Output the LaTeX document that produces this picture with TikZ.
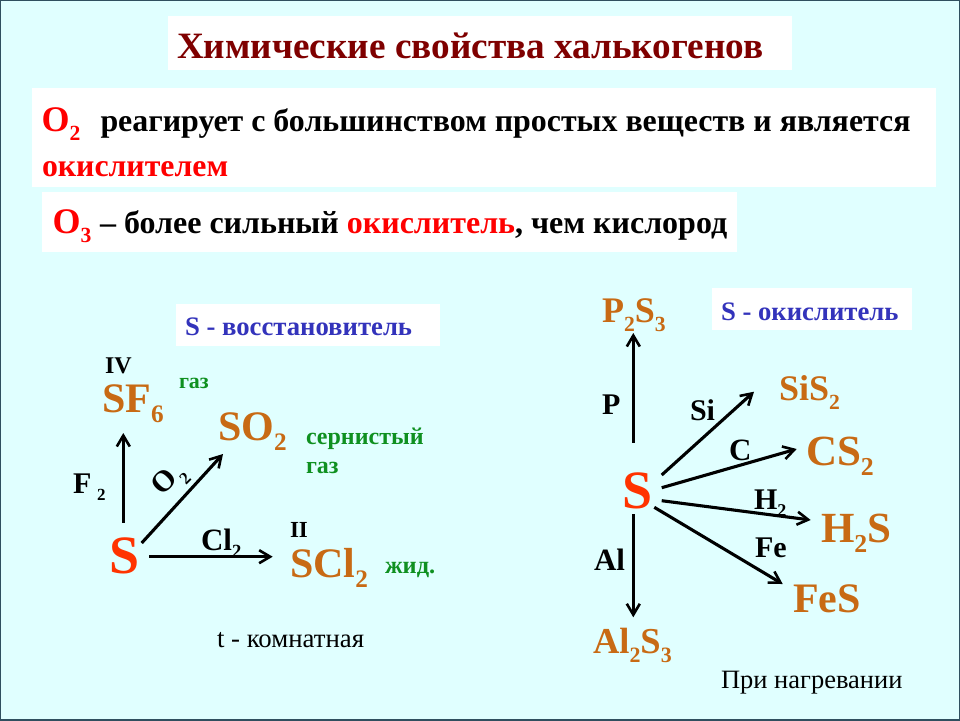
\documentclass[tikz,border=0pt]{standalone}
\usepackage{fontspec}
\setmainfont{Liberation Serif}
\usetikzlibrary{calc,arrows.meta}
\definecolor{bgc}{HTML}{E0FFFF}
\definecolor{framec}{HTML}{2F4F5F}
\definecolor{titlec}{HTML}{7F0000}
\definecolor{redc}{HTML}{FF0000}
\definecolor{sred}{HTML}{FF3300}
\definecolor{prod}{HTML}{C86A14}
\definecolor{bluec}{HTML}{3333BB}
\definecolor{greenc}{HTML}{0F9020}
\newcommand\fsz[1]{\fontsize{#1pt}{#1pt}\selectfont\def\cursz{#1}}
\newcommand\subs[1]{\raisebox{-0.25em}{\fontsize{\fpeval{0.6*\cursz}pt}{\fpeval{0.6*\cursz}pt}\selectfont #1}}
\tikzset{
  x=1pt,y=-1pt,
  txt/.style={inner sep=0pt,outer sep=0pt,anchor=base west,font=\bfseries},
  panel/.style={fill=white,draw=none},
  arr/.style={draw=black,line width=3.1pt,-{Straight Barb[length=11pt,width=13pt,line width=2.6pt]}},
}
\begin{document}
\begin{tikzpicture}
\useasboundingbox (0,0) rectangle (960,720);
\fill[bgc] (0,0) rectangle (960,720);
\draw[framec,line width=2.4pt] (0,0) rectangle (960,720);
\fill[panel] (168,16) rectangle (792,70);
\fill[panel] (32,88) rectangle (936,187);
\fill[panel] (42,192) rectangle (737,252);
\fill[panel] (176,304) rectangle (440,346);
\fill[panel] (712,288) rectangle (912,330);

\node[txt,text=titlec] (title) at (177,58) {\fsz{37.2}Химические свойства халькогенов};
\node[txt,text=redc] (o2) at (41.5,131) {\fsz{36}O\subs{2}};
\node[txt] (l1) at (100.5,131) {\fsz{31.9}реагирует с большинством простых веществ и является};
\node[txt,text=redc] (o3) at (52.5,233) {\fsz{36}O\subs{3}};
\node[txt,text=redc] (l2) at (42,176) {\fsz{31.8}окислителем};
\node[txt] (l3) at (100,233) {\fsz{32}– более сильный \textcolor{redc}{окислитель}, чем кислород};

\node[txt,text=bluec] (h1) at (185,335) {\fsz{26.7}S - восстановитель};
\node[txt,text=bluec] (h2) at (721,320) {\fsz{26.7}S - окислитель};

% left scheme
\node[txt,text=sred] (S1) at (109,573) {\fsz{54}S};
\node[txt,text=prod] (SF) at (102,412) {\fsz{42}SF\subs{6}};
\node[txt,text=prod] (SO) at (218,440) {\fsz{42}SO\subs{2}};
\node[txt,text=prod] (SC) at (290,577) {\fsz{42}SCl\subs{2}};
\node[txt] (iv) at (105,373) {\fsz{24}IV};
\node[txt] (ii) at (290,537) {\fsz{23}II};
\node[txt,text=greenc] (g1) at (179,388) {\fsz{22}газ};
\node[txt,text=greenc] (g2) at (306,444) {\fsz{24}сернистый};
\node[txt,text=greenc] (g3) at (306,473) {\fsz{24}газ};
\node[txt,text=greenc] (g4) at (385,573) {\fsz{24.4}жид.};
\node[txt] (lf) at (73,493) {\fsz{30}F};
\node[txt] (lf2) at (97,500) {\fsz{17}2};
\node[txt,rotate=45] (lo) at (162,496) {\fsz{30}O};
\node[txt,rotate=45] (lo2) at (186,485) {\fsz{17}2};
\node[txt] (lc) at (201,550) {\fsz{31}Cl\subs{2}};
\node[txt] (tk) at (217,647) {\fontsize{26.8pt}{26.8pt}\selectfont\normalfont t - комнатная};

\draw[arr] ($(S1.base west)+(14.3,-50.3)$) -- ($(SF.base west)+(21.3,21)$);
\draw[arr] ($(S1.base west)+(32.7,-30)$) -- ($(SO.base west)+(5,14)$);
\draw[arr] ($(S1.base west)+(40,-16.3)$) -- ($(SC.base west)+(-17.3,-20.3)$);

% right scheme
\node[txt,text=sred] (S2) at (622.5,508) {\fsz{54}S};
\node[txt,text=prod] (P) at (602,322) {\fsz{36}P\subs{2}S\subs{3}};
\node[txt,text=prod] (Si) at (779,400) {\fsz{36}SiS\subs{2}};
\node[txt,text=prod] (CS) at (806,465) {\fsz{43}CS\subs{2}};
\node[txt,text=prod] (HS) at (821,542) {\fsz{43}H\subs{2}S};
\node[txt,text=prod] (FS) at (793,612) {\fsz{42}FeS};
\node[txt,text=prod] (AS) at (593,653) {\fsz{36.5}Al\subs{2}S\subs{3}};
\node[txt] (lp) at (602,414) {\fsz{30}P};
\node[txt] (lsi) at (690,420) {\fsz{30}Si};
\node[txt] (lcc) at (729,460) {\fsz{31}C};
\node[txt] (lh) at (754,509) {\fsz{30}H\subs{2}};
\node[txt] (lfe) at (755,557) {\fsz{30}Fe};
\node[txt] (lal) at (594,570) {\fsz{31}Al};
\node[txt] (ph) at (721,688) {\fontsize{26.5pt}{26.5pt}\selectfont\normalfont При нагревании};

\draw[arr] ($(S2.base west)+(10.8,-65.3)$) -- ($(P.base west)+(31.3,11)$);
\draw[arr] ($(S2.base west)+(39.2,-33)$) -- ($(Si.base west)+(-25,-8.3)$);
\draw[arr] ($(S2.base west)+(39.2,-20.3)$) -- ($(CS.base west)+(-9.3,-16)$);
\draw[arr] ($(S2.base west)+(39.2,-7.3)$) -- ($(HS.base west)+(-10.3,-22)$);
\draw[arr] ($(S2.base west)+(31.8,-0.7)$) -- ($(FS.base west)+(-10.3,-28)$);
\draw[arr] ($(S2.base west)+(10.8,6)$) -- ($(AS.base west)+(40.3,-35.7)$);
\end{tikzpicture}
\end{document}
